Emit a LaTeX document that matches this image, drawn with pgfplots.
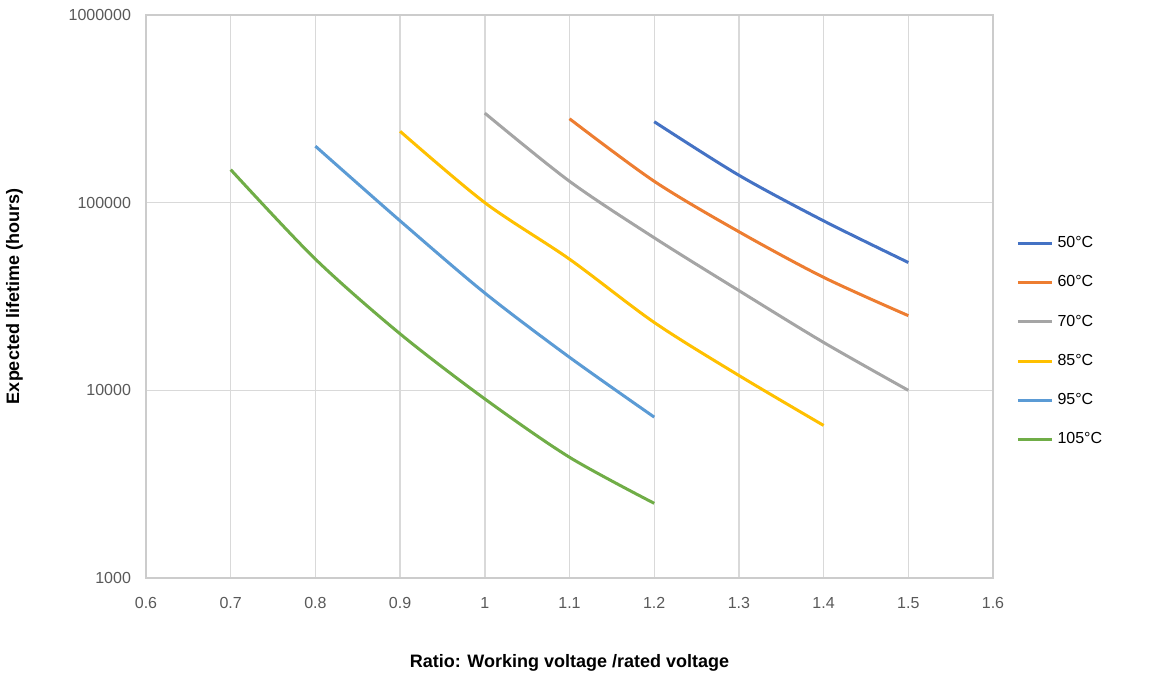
\documentclass[border=0pt]{standalone}
\usepackage{pgfplots}
\pgfplotsset{compat=1.18}
\usepackage{fontspec}
\setmainfont{Liberation Sans}
\begin{document}
\begin{tikzpicture}
\path[use as bounding box] (-73pt,-54pt) rectangle (501.5pt,289pt);
\begin{axis}[at={(0,0)},anchor=south west,scale only axis,width=423.5pt,height=281.5pt,
 ymode=log, xmin=0.6,xmax=1.6,ymin=1000,ymax=1000000,
 xtick={0.6,0.7,...,1.6},
 xticklabels={0.6,0.7,0.8,0.9,1,1.1,1.2,1.3,1.4,1.5,1.6},
 ytick={1000,10000,100000,1000000},
 yticklabels={1000,10000,100000,1000000},
 yminorticks=false, grid=major, major grid style={gray!30,line width=0.7pt},
 axis line style={gray!40,line width=0.7pt}, tick style={draw=none},
 ticklabel style={font=\fontsize{8}{9}\selectfont, text=black!65},
 xticklabel style={yshift=-6pt}, yticklabel style={xshift=-4pt},
 xlabel={\textbf{Ratio: Working voltage /rated voltage}},
 ylabel={\textbf{Expected lifetime (hours)}},
 label style={font=\fontsize{9}{11}\selectfont},
 xlabel style={yshift=-16pt}, ylabel style={yshift=16pt},
 legend style={draw=none,at={(1.02,0.42)},anchor=west,font=\fontsize{8}{9}\selectfont,row sep=8.5pt,fill=none},
 legend cell align=left,
 every axis plot/.append style={line width=1.5pt,smooth,no marks},
]
\addplot[color={rgb,255:red,68;green,114;blue,196}] coordinates {(1.2,270000)(1.3,140000)(1.4,80000)(1.5,48000)};
\addplot[color={rgb,255:red,237;green,125;blue,49}] coordinates {(1.1,280000)(1.2,130000)(1.3,70000)(1.4,40000)(1.5,25000)};
\addplot[color={rgb,255:red,165;green,165;blue,165}] coordinates {(1.0,300000)(1.1,130000)(1.2,65000)(1.3,34000)(1.4,18000)(1.5,10000)};
\addplot[color={rgb,255:red,255;green,192;blue,0}] coordinates {(0.9,240000)(1.0,100000)(1.1,50000)(1.2,23000)(1.3,12000)(1.4,6500)};
\addplot[color={rgb,255:red,91;green,155;blue,213}] coordinates {(0.8,200000)(0.9,80000)(1.0,33000)(1.1,15000)(1.2,7200)};
\addplot[color={rgb,255:red,112;green,173;blue,71}] coordinates {(0.7,150000)(0.8,50000)(0.9,20000)(1.0,9000)(1.1,4400)(1.2,2500)};
\legend{50°C,60°C,70°C,85°C,95°C,105°C}
\end{axis}
\end{tikzpicture}
\end{document}
